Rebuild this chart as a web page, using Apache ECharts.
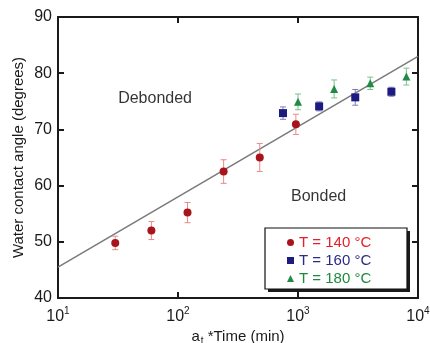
<!DOCTYPE html>
<html>
<head>
<meta charset="utf-8">
<script src="https://cdn.jsdelivr.net/npm/echarts@6/dist/echarts.min.js"></script>
<style>
  html, body { margin: 0; padding: 0; background: #fff; }
  #chart { width: 430px; height: 343px; }
</style>
</head>
<body>
<div id="chart"></div>
<script>
// values
const x140 = [30, 60, 120, 240, 480, 960]
const y140 = [49.8, 52.0, 55.2, 62.5, 65.0, 70.9]
const e140 = [1.2, 1.6, 1.8, 2.1, 2.5, 1.8]

const x160 = [750, 1500, 3000, 6000]
const y160 = [72.9, 74.1, 75.7, 76.7]
const e160 = [1.1, 0.8, 1.4, 0.8]

const x180 = [1000, 2000, 4000, 8000]
const y180 = [74.9, 77.2, 78.2, 79.4]
const e180 = [1.4, 1.6, 1.1, 1.5]

const fitLine = [[10, 45.5], [10000, 83.0]]
const regionLabels = [
  { name: 'Debonded', value: [65, 75.4] },
  { name: 'Bonded', value: [1500, 58.0] }
]

const FONT = 'Liberation Sans, Arial, sans-serif'
const AXIS = '#1a1a1a'

function pairs (xs, ys) {
  return xs.map((x, i) => [x, ys[i]])
}
function errData (xs, ys, es) {
  return xs.map((x, i) => [x, ys[i] - es[i], ys[i] + es[i]])
}
function errBars (name, xs, ys, es, color) {
  return {
    name: name + ' err',
    type: 'custom',
    data: errData(xs, ys, es),
    z: 3,
    renderItem: function (params, api) {
      const lo = api.coord([api.value(0), api.value(1)])
      const hi = api.coord([api.value(0), api.value(2)])
      const w = 3
      const style = { stroke: color, lineWidth: 1 }
      return {
        type: 'group',
        children: [
          { type: 'line', shape: { x1: lo[0], y1: lo[1], x2: hi[0], y2: hi[1] }, style: style },
          { type: 'line', shape: { x1: lo[0] - w, y1: lo[1], x2: lo[0] + w, y2: lo[1] }, style: style },
          { type: 'line', shape: { x1: hi[0] - w, y1: hi[1], x2: hi[0] + w, y2: hi[1] }, style: style }
        ]
      }
    }
  }
}

const supLabel = function (v) {
  const p = Math.round(Math.log10(v))
  return '{b|10}{s|' + p + '}'
}

let chart = echarts.init(document.getElementById('chart'))
chart.setOption({
  animation: false,
  grid: { left: 58, right: 12, top: 17, bottom: 45, outerBoundsMode: 'none', containLabel: false },
  // legend frame with a hard drop shadow
  graphic: [
    { type: 'rect', z: 5, shape: { x: 268, y: 231, width: 142, height: 61 }, style: { fill: '#1a1a1a' } },
    { type: 'rect', z: 6, shape: { x: 265, y: 228, width: 142, height: 61 }, style: { fill: '#fff', stroke: '#111', lineWidth: 1.2 } }
  ],
  xAxis: [{
    type: 'log',
    logBase: 10,
    min: 10,
    max: 10000,
    name: '{b|a}{sub|t}{b| *Time (min)}',
    nameLocation: 'middle',
    nameGap: 26,
    nameTextStyle: {
      rich: {
        b: { fontFamily: FONT, fontSize: 15, color: AXIS },
        sub: { fontFamily: FONT, fontSize: 10, color: AXIS, padding: [8, 0, 0, 1] }
      }
    },
    axisLine: { lineStyle: { color: AXIS, width: 2 } },
    axisTick: { inside: true, length: 6, lineStyle: { color: AXIS, width: 2 } },
    minorTick: { show: false },
    splitLine: { show: false },
    axisLabel: {
      margin: 8,
      formatter: supLabel,
      rich: {
        b: { fontFamily: FONT, fontSize: 16, color: AXIS },
        s: { fontFamily: FONT, fontSize: 10, color: AXIS, padding: [0, 0, 11, 0] }
      }
    }
  }, {
    type: 'log',
    logBase: 10,
    min: 10,
    max: 10000,
    position: 'top',
    axisLine: { lineStyle: { color: AXIS, width: 2 } },
    axisTick: { inside: true, length: 6, lineStyle: { color: AXIS, width: 2 } },
    axisLabel: { show: false },
    splitLine: { show: false }
  }],
  yAxis: [{
    type: 'value',
    min: 40,
    max: 90,
    interval: 10,
    name: 'Water contact angle (degrees)',
    nameLocation: 'middle',
    nameGap: 32,
    nameMoveOverlap: false,
    nameTextStyle: { fontFamily: FONT, fontSize: 15, color: AXIS },
    axisLine: { show: true, lineStyle: { color: AXIS, width: 2 } },
    axisTick: { show: true, inside: true, length: 6, lineStyle: { color: AXIS, width: 2 } },
    splitLine: { show: false },
    axisLabel: { fontFamily: FONT, fontSize: 16, color: AXIS, margin: 6 }
  }, {
    type: 'value',
    min: 40,
    max: 90,
    interval: 10,
    position: 'right',
    axisLine: { show: true, lineStyle: { color: AXIS, width: 2 } },
    axisTick: { show: true, inside: true, length: 6, lineStyle: { color: AXIS, width: 2 } },
    axisLabel: { show: false },
    splitLine: { show: false }
  }],
  legend: {
    orient: 'vertical',
    left: 265,
    top: 228,
    z: 10,
    padding: [7, 32, 6, 22],
    itemGap: 3,
    itemWidth: 7,
    itemHeight: 7,
    textStyle: { fontFamily: FONT, fontSize: 15 },
    data: [
      { name: 'T = 140 °C', textStyle: { color: '#e5202a' } },
      { name: 'T = 160 °C', textStyle: { color: '#2a2a88' } },
      { name: 'T = 180 °C', textStyle: { color: '#1f8a3c' } }
    ]
  },
  series: [
    {
      name: 'fit',
      type: 'line',
      data: fitLine,
      symbol: 'none',
      lineStyle: { color: '#7a7a7a', width: 1.5 },
      z: 1
    },
    errBars('T = 140 °C', x140, y140, e140, '#e88a8a'),
    errBars('T = 160 °C', x160, y160, e160, '#7c7cc0'),
    errBars('T = 180 °C', x180, y180, e180, '#7cc08c'),
    {
      name: 'T = 140 °C',
      type: 'scatter',
      data: pairs(x140, y140),
      symbol: 'circle',
      symbolSize: 8,
      itemStyle: { color: '#a8141c', opacity: 1 },
      z: 4
    },
    {
      name: 'T = 160 °C',
      type: 'scatter',
      data: pairs(x160, y160),
      symbol: 'rect',
      symbolSize: 8,
      itemStyle: { color: '#1c1c80', opacity: 1 },
      z: 4
    },
    {
      name: 'T = 180 °C',
      type: 'scatter',
      data: pairs(x180, y180),
      symbol: 'triangle',
      symbolSize: 8,
      itemStyle: { color: '#228a44', opacity: 1 },
      z: 4
    },
    {
      name: 'regions',
      type: 'scatter',
      data: regionLabels,
      symbolSize: 1,
      silent: true,
      itemStyle: { color: 'rgba(0,0,0,0)' },
      label: {
        show: true,
        position: [0, 0],
        align: 'center',
        verticalAlign: 'middle',
        formatter: '{b}',
        fontFamily: FONT,
        fontSize: 16,
        color: '#000',
        textBorderWidth: 0
      }
    }
  ]
})
</script>
</body>
</html>
